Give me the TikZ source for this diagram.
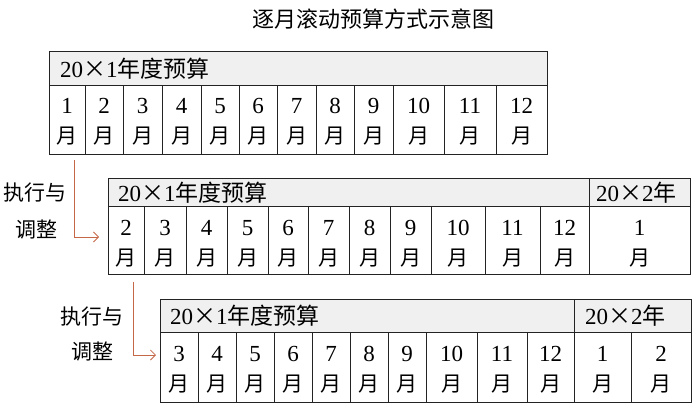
\documentclass[tikz,border=0pt]{standalone}
\usepackage{fontspec}
\setmainfont{Liberation Serif}
\newfontfamily\cjk{Noto Sans CJK SC}
\usetikzlibrary{arrows.meta}
\definecolor{hdr}{RGB}{240,240,240}
\definecolor{arr}{RGB}{196,104,72}
\definecolor{ln}{RGB}{35,35,35}
\newcommand{\tms}{{\cjk ×}}
\tikzset{
  cell/.style={draw=ln, line width=0.9pt, inner sep=0pt, outer sep=0pt, anchor=north west},
  hdrcell/.style={cell, fill=hdr},
  num/.style={anchor=base, inner sep=0pt, font=\fontsize{23}{23}\selectfont},
  mon/.style={anchor=base, inner sep=0pt, font=\cjk\fontsize{21}{21}\selectfont},
  htxt/.style={anchor=base west, inner sep=0pt, font=\fontsize{23}{23}\selectfont},
  lbl/.style={inner sep=0pt, font=\cjk\fontsize{21}{21}\selectfont},
  flow/.style={draw=arr, line width=0.8pt, -{Straight Barb[length=5pt,width=10pt]}}
}
\begin{document}
\begin{tikzpicture}[x=1pt,y=-1pt]
\useasboundingbox (0,0) rectangle (700,414);
\node[font=\cjk\fontsize{22}{22}\selectfont] (title) at (373,19) {逐月滚动预算方式示意图};

% ---------- row 1 ----------
\node[hdrcell, minimum width=498pt, minimum height=34pt] (h1a) at (49,51) {};
\node[htxt] (h1at) at (60,78) {20\tms1{\cjk 年度预算}};
\foreach \a/\b/\t [count=\i] in {49/85/1,85/123/2,123/162/3,162/201/4,201/239/5,239/277/6,277/316/7,316/354/8,354/393/9,393/444/10,444/496/11,496/547/12}{
  \node[cell, minimum width={(\b-\a)*1pt}, minimum height=69pt] (r1c\i) at (\a,85) {};
  \node[num] (r1n\i) at ([yshift=-29pt]r1c\i.north) {\t};
  \node[mon] (r1m\i) at ([yshift=-59pt]r1c\i.north) {月};
}

% ---------- row 2 ----------
\node[hdrcell, minimum width=481pt, minimum height=28pt] (h2a) at (108,178) {};
\node[hdrcell, minimum width=101pt, minimum height=28pt] (h2b) at (589,178) {};
\node[htxt] (h2at) at (118,201) {20\tms1{\cjk 年度预算}};
\node[htxt] (h2bt) at (596,201) {20\tms2{\cjk 年}};
\foreach \a/\b/\t [count=\i] in {108/144/2,144/186/3,186/227/4,227/268/5,268/308/6,308/349/7,349/390/8,390/431/9,431/485/10,485/540/11,540/589/12,589/690/1}{
  \node[cell, minimum width={(\b-\a)*1pt}, minimum height=68pt] (r2c\i) at (\a,206) {};
  \node[num] (r2n\i) at ([yshift=-29pt]r2c\i.north) {\t};
  \node[mon] (r2m\i) at ([yshift=-59pt]r2c\i.north) {月};
}

% ---------- row 3 ----------
\node[hdrcell, minimum width=414pt, minimum height=33pt] (h3a) at (160,299) {};
\node[hdrcell, minimum width=117pt, minimum height=33pt] (h3b) at (574,299) {};
\node[htxt] (h3at) at (170,324) {20\tms1{\cjk 年度预算}};
\node[htxt] (h3bt) at (585,324) {20\tms2{\cjk 年}};
\foreach \a/\b/\t [count=\i] in {160/198/3,198/236/4,236/274/5,274/312/6,312/350/7,350/388/8,388/426/9,426/477/10,477/527/11,527/574/12,574/631/1,631/691/2}{
  \node[cell, minimum width={(\b-\a)*1pt}, minimum height=70pt] (r3c\i) at (\a,332) {};
  \node[num] (r3n\i) at ([yshift=-29pt]r3c\i.north) {\t};
  \node[mon] (r3m\i) at ([yshift=-59pt]r3c\i.north) {月};
}

% ---------- labels ----------
\node[lbl] (l1a) at (35,193) {执行与};
\node[lbl] (l1b) at (36,230) {调整};
\node[lbl] (l2a) at (92,317) {执行与};
\node[lbl] (l2b) at (92,352) {调整};

% ---------- arrows ----------
\draw[flow] ([shift={(7pt,-6pt)}]r1c1.south) |- ([shift={(-9pt,3pt)}]r2c1.west);
\draw[flow] ([shift={(7pt,-8pt)}]r2c1.south) |- ([shift={(-4pt,12pt)}]r3c1.west);
\end{tikzpicture}
\end{document}
